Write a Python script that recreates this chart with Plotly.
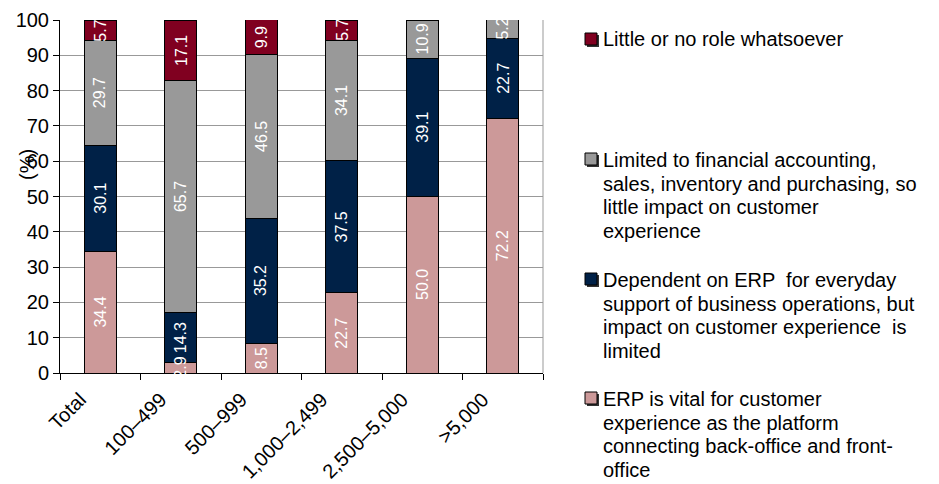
import plotly.graph_objects as go

# Company-size groups on the x axis
categories = ["Total", "100–499", "500–999", "1,000–2,499", "2,500–5,000", ">5,000"]

# Share of respondents (%) per answer, bottom to top of each stack
vital = [34.4, 2.9, 8.5, 22.7, 50.0, 72.2]
dependent = [30.1, 14.3, 35.2, 37.5, 39.1, 22.7]
limited = [29.7, 65.7, 46.5, 34.1, 10.9, 5.2]
little = [5.7, 17.1, 9.9, 5.7, 0.0, 0.0]

series_names = [
    "ERP is vital for customer<br>experience as the platform<br>connecting back-office and front-<br>office",
    "Dependent on ERP  for everyday<br>support of business operations, but<br>impact on customer experience  is<br>limited",
    "Limited to financial accounting,<br>sales, inventory and purchasing, so<br>little impact on customer<br>experience",
    "Little or no role whatsoever",
]
series_values = [vital, dependent, limited, little]
series_colors = ["#CC9999", "#002147", "#999999", "#800020"]

y_ticks = list(range(0, 101, 10))

FONT = "Liberation Sans, Arial, sans-serif"

fig = go.Figure()
annotations = []
base = [0.0] * len(categories)
for name, vals, color in zip(series_names, series_values, series_colors):
    fig.add_trace(go.Bar(
        x=categories,
        y=vals,
        name=name,
        marker=dict(color=color, line=dict(color="#000000", width=1)),
        showlegend=False,
    ))
    # value labels, written vertically in the middle of each segment
    for i, v in enumerate(vals):
        if v > 0:
            annotations.append(dict(
                x=categories[i], y=base[i] + v / 2, xref="x", yref="y",
                text=f"{v:.1f}", textangle=-90, showarrow=False,
                xanchor="center", yanchor="middle",
                font=dict(family=FONT, size=16, color="#FFFFFF"),
            ))
        base[i] += v

# Plot-area geometry in pixels (used for placing the side key)
W, H = 939, 484
L, R, T, B = 60, 396, 20, 111
pw, ph = W - L - R, H - T - B


def px_x(p):
    return (p - L) / pw


def px_y(p):
    return (H - B - p) / ph


# Custom key on the right: top entry first (series index, swatch top, first line centre)
key_rows = [
    (3, 33, 39),
    (2, 153, 160),
    (1, 273, 280),
    (0, 392, 399),
]
LINE_STEP = 23.7
shapes = []
for idx, sq_top, first_line in key_rows:
    # drop shadow
    shapes.append(dict(type="rect", xref="paper", yref="paper",
                       x0=px_x(587), x1=px_x(599), y0=px_y(sq_top + 14), y1=px_y(sq_top + 2),
                       fillcolor="#333333", line=dict(width=0), layer="above"))
    shapes.append(dict(type="rect", xref="paper", yref="paper",
                       x0=px_x(585), x1=px_x(597), y0=px_y(sq_top + 12), y1=px_y(sq_top),
                       fillcolor=series_colors[idx], line=dict(color="#000000", width=1),
                       layer="above"))
    for k, line in enumerate(series_names[idx].split("<br>")):
        annotations.append(dict(
            xref="paper", yref="paper", x=px_x(601), y=px_y(first_line + k * LINE_STEP),
            xanchor="left", yanchor="middle", align="left", showarrow=False,
            text=line,
            font=dict(family=FONT, size=20, color="#000000"),
        ))

# Right border of the plot frame
shapes.append(dict(type="line", xref="paper", yref="paper", x0=1, x1=1, y0=0, y1=1,
                   line=dict(color="#999999", width=1)))

# Y-axis title
annotations.append(dict(
    xref="paper", yref="paper", x=px_x(27), y=px_y(165),
    xanchor="center", yanchor="middle", showarrow=False, textangle=-90,
    text="(%)", font=dict(family=FONT, size=20, color="#000000"),
))

fig.update_layout(
    width=W, height=H,
    margin=dict(l=L, r=R, t=T, b=B, pad=0, autoexpand=False),
    barmode="stack",
    bargap=0.6,
    plot_bgcolor="#FFFFFF",
    paper_bgcolor="#FFFFFF",
    font=dict(family=FONT, size=20, color="#000000"),
    shapes=shapes,
    annotations=annotations,
    xaxis=dict(
        type="category",
        tickson="boundaries",
        ticks="outside", ticklen=6, tickcolor="#000000",
        showline=True, linecolor="#000000", linewidth=1,
        tickangle=-45,
        tickfont=dict(family=FONT, size=20),
        ticklabelshift=-20,
        ticklabelstandoff=6,
        automargin=False,
        showgrid=False,
    ),
    yaxis=dict(
        range=[0, 100],
        tickvals=y_ticks,
        ticks="outside", ticklen=6, tickcolor="#000000",
        showline=True, linecolor="#000000", linewidth=1,
        showgrid=True, gridcolor="#999999", gridwidth=1,
        tickfont=dict(family=FONT, size=20),
        automargin=False,
        zeroline=False,
    ),
)

fig.write_html("out.html")
